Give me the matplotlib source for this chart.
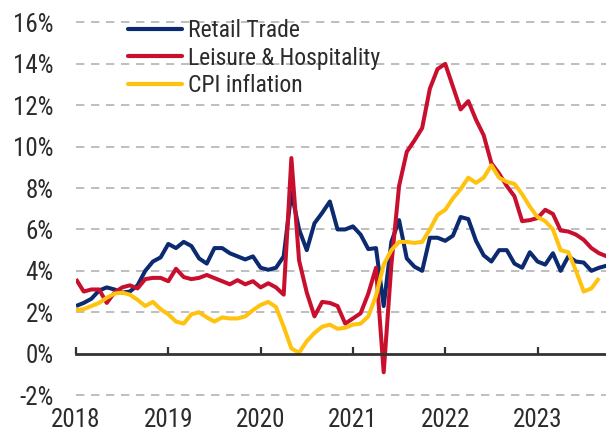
import matplotlib
matplotlib.use("Agg")
import matplotlib.pyplot as plt
from matplotlib.lines import Line2D
from matplotlib import font_manager
import numpy as np

avail = {f.name for f in font_manager.fontManager.ttflist}
cands = ['Roboto Condensed', 'Liberation Sans Narrow', 'Open Sans Condensed', 'Noto Sans Condensed']
narrow = [c for c in cands if c in avail]
if narrow:
    plt.rcParams['font.family'] = [narrow[0], 'DejaVu Sans']
    tick_fs, leg_fs = 18, 17
else:
    plt.rcParams['font.family'] = ['Liberation Sans', 'DejaVu Sans']
    tick_fs, leg_fs = 15.5, 14.5

# Monthly, Dec 2017 .. Sep 2023 (YoY %)
retail_trade = [2.3, 2.45, 2.65, 3.05, 3.2, 3.1, 2.95, 3.0, 3.3, 4.0, 4.45, 4.65,
                5.3, 5.1, 5.4, 5.2, 4.6, 4.35, 5.1, 5.1, 4.85, 4.7, 4.55, 4.7,
                4.15, 4.05, 4.15, 4.7, 7.8, 6.0, 5.0, 6.3, 6.8, 7.35, 6.0, 6.0,
                6.15, 5.75, 5.05, 5.1, 2.3, 5.4, 6.45, 4.6, 4.2, 4.0, 5.6, 5.6,
                5.45, 5.7, 6.6, 6.5, 5.45, 4.75, 4.45, 5.0, 5.0, 4.35, 4.15, 4.9,
                4.45, 4.3, 4.85, 4.0, 4.7, 4.45, 4.4, 4.0, 4.15, 4.25]
leisure_hosp = [3.6, 3.0, 3.1, 3.1, 2.45, 2.95, 3.2, 3.3, 3.15, 3.6, 3.66, 3.66,
                3.5, 4.1, 3.7, 3.6, 3.66, 3.8, 3.65, 3.5, 3.35, 3.55, 3.35, 3.5,
                3.2, 3.4, 3.2, 2.85, 9.45, 4.5, 2.95, 1.8, 2.5, 2.45, 2.3, 1.45,
                1.7, 1.95, 2.9, 4.15, -0.9, 4.3, 8.1, 9.75, 10.3, 10.9, 12.8, 13.75,
                14.0, 12.9, 11.8, 12.2, 11.3, 10.55, 9.2, 8.7, 8.1, 7.6, 6.4, 6.45,
                6.55, 6.95, 6.75, 5.95, 5.9, 5.75, 5.5, 5.1, 4.85, 4.7]
cpi_inflation = [2.1, 2.15, 2.3, 2.45, 2.7, 2.9, 2.95, 2.85, 2.6, 2.3, 2.5, 2.15,
                 1.9, 1.55, 1.45, 1.9, 2.0, 1.75, 1.55, 1.75, 1.7, 1.7, 1.8, 2.1,
                 2.35, 2.5, 2.25, 1.3, 0.25, 0.05, 0.6, 1.0, 1.3, 1.4, 1.2, 1.25,
                 1.4, 1.45, 1.8, 2.8, 4.3, 5.0, 5.4, 5.4, 5.35, 5.4, 6.0, 6.7,
                 6.95, 7.5, 7.95, 8.5, 8.25, 8.5, 9.1, 8.5, 8.3, 8.2, 7.7, 7.1,
                 6.6, 6.4, 6.0, 5.0, 4.9, 4.0, 3.0, 3.15, 3.65]
series_names = ["Retail Trade", "Leisure & Hospitality", "CPI inflation"]
year_labels = ["2018", "2019", "2020", "2021", "2022", "2023"]
year_ticks = [0, 12, 24, 36, 48, 60]
y_ticks = [-2, 0, 2, 4, 6, 8, 10, 12, 14, 16]

colors = ["#0B2A6F", "#C8102E", "#FFC20E"]
text_color = "#2b2b2b"

fig = plt.figure(figsize=(6.06, 4.33), dpi=100)
W, H = 606, 433
left_px, right_px = 76, 606
ax = fig.add_axes([left_px / W, 0.0829, (right_px - left_px) / W, 0.870])

for vals, name, c in zip([retail_trade, leisure_hosp, cpi_inflation], series_names, colors):
    ax.plot(np.arange(len(vals)), vals, color=c, lw=2.9, label=name,
            solid_joinstyle='round', solid_capstyle='butt')

ax.set_xlim(0, 68.9)
ax.set_ylim(-2.1, 16.1)

for yv in y_ticks:
    if yv != 0:
        ax.axhline(yv, color="#b3b3b3", lw=1.2, dashes=(5, 4), zorder=0)

for s in ["top", "right", "left"]:
    ax.spines[s].set_visible(False)
ax.spines["bottom"].set_position(("data", 0))
ax.spines["bottom"].set_color("#333333")
ax.spines["bottom"].set_linewidth(2.0)

ax.set_yticks(y_ticks)
ax.set_yticklabels([f"{v}%" for v in y_ticks])
ax.tick_params(axis="y", length=0, pad=16, labelsize=tick_fs, labelcolor=text_color)

ax.set_xticks(year_ticks)
ax.set_xticklabels(year_labels)
ax.tick_params(axis="x", direction="in", length=5, width=1.6, color="#333333",
               pad=39, labelsize=tick_fs, labelcolor=text_color)

handles = [Line2D([0], [0], color=c, lw=3.0, solid_capstyle='round') for c in colors]
leg = ax.legend(handles, series_names, loc="upper left",
                bbox_to_anchor=(128 / W, 1 - 19 / H), bbox_transform=fig.transFigure,
                frameon=False, fontsize=leg_fs, handlelength=2.3, handletextpad=0.22,
                labelspacing=0.2, borderpad=0, borderaxespad=0)
for t in leg.get_texts():
    t.set_color(text_color)

fig.savefig("out.png", dpi=100)
